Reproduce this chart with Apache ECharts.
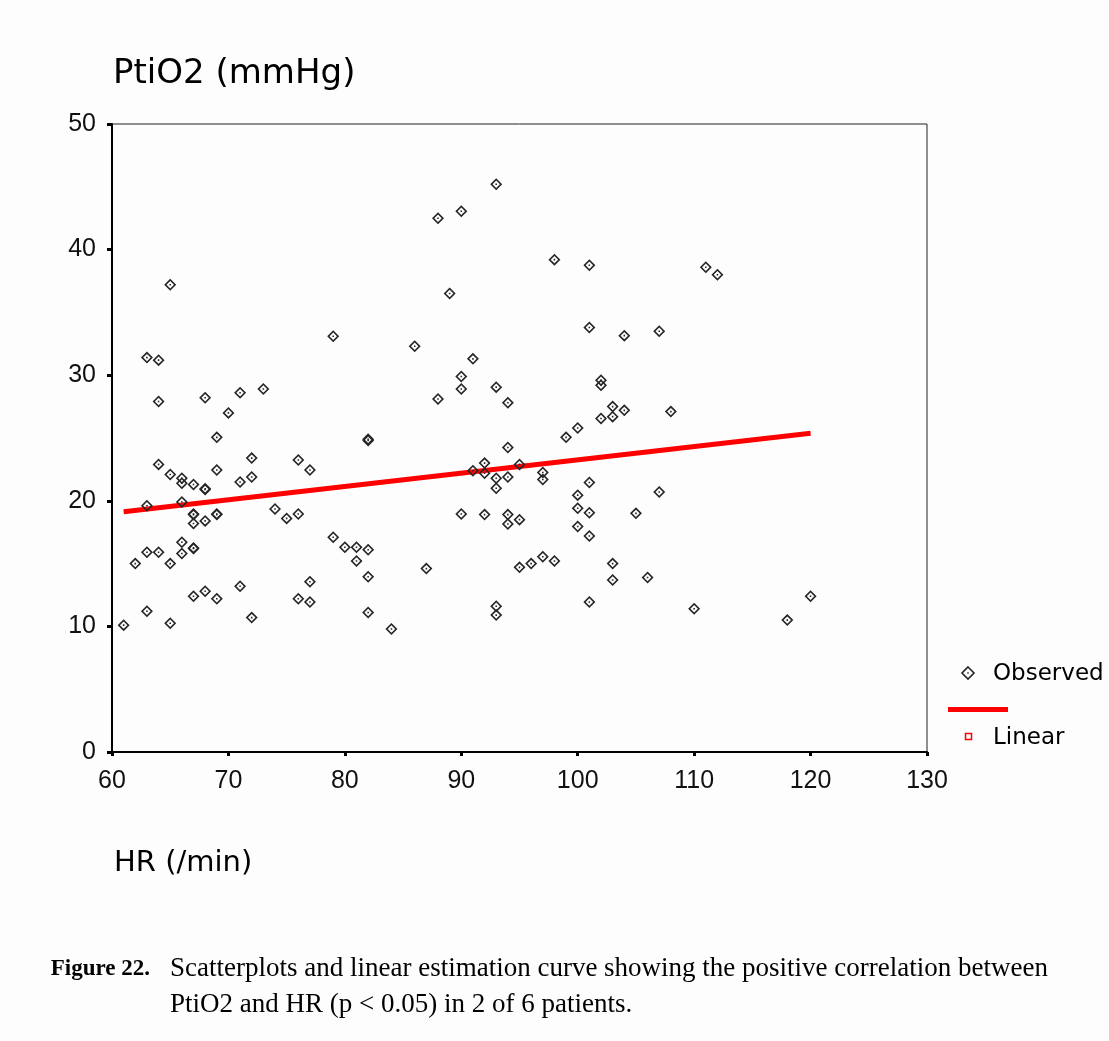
<!DOCTYPE html>
<html>
<head>
<meta charset="utf-8">
<script src="https://cdn.jsdelivr.net/npm/echarts@6/dist/echarts.min.js"></script>
<style>
  html, body { margin: 0; padding: 0; background: #fdfdfd; }
  #chart { width: 1109px; height: 1041px; }
</style>
</head>
<body>
<div id="chart"></div>
<script>
// Heart rate (/min) for each observation
const hr = [
  61, 62,
  63, 63, 63, 63,
  64, 64, 64, 64,
  65, 65, 65, 65,
  66, 66, 66, 66, 66,
  67, 67, 67, 67, 67, 67, 67,
  68, 68, 68, 68, 68,
  69, 69, 69, 69, 69,
  70,
  71, 71, 71,
  72, 72, 72,
  73, 74, 75,
  76, 76, 76,
  77, 77, 77,
  79, 79,
  80,
  81, 81,
  82, 82, 82, 82, 82,
  84, 86, 87,
  88, 88,
  89,
  90, 90, 90, 90,
  91, 91,
  92, 92, 92,
  93, 93, 93, 93, 93, 93,
  94, 94, 94, 94, 94,
  95, 95, 95,
  96,
  97, 97, 97,
  98, 98,
  99,
  100, 100, 100, 100,
  101, 101, 101, 101, 101, 101,
  102, 102, 102,
  103, 103, 103, 103,
  104, 104,
  105, 106,
  107, 107,
  108, 110, 111, 112, 118, 120
];

// Tissue oxygen tension PtiO2 (mmHg), same order as hr
const ptio2 = [
  10.1, 15.0,
  31.4, 19.6, 15.9, 11.2,
  31.2, 27.9, 22.9, 15.9,
  37.2, 22.1, 15.0, 10.25,
  21.8, 21.4, 19.9, 16.7, 15.8,
  21.3, 18.9, 18.95, 18.2, 16.2, 16.25, 12.4,
  28.2, 20.9, 20.95, 18.4, 12.8,
  25.05, 22.45, 18.9, 18.95, 12.2,
  27.0,
  28.6, 21.5, 13.2,
  23.4, 21.9, 10.7,
  28.9, 19.35, 18.6,
  23.25, 18.95, 12.2,
  22.45, 13.55, 11.95,
  33.1, 17.1,
  16.3,
  16.3, 15.2,
  24.8, 24.9, 16.1, 13.95, 11.1,
  9.8, 32.3, 14.6,
  42.5, 28.1,
  36.5,
  43.05, 29.9, 28.9, 18.95,
  31.3, 22.4,
  23.0, 22.2, 18.9,
  45.2, 29.05, 21.8, 21.0, 11.6, 10.9,
  27.8, 24.25, 21.9, 18.9, 18.15,
  22.9, 18.5, 14.7,
  15.0,
  22.25, 21.7, 15.55,
  39.2, 15.2,
  25.05,
  25.8, 20.45, 19.4, 17.95,
  38.75, 33.8, 21.45, 19.05, 17.2, 11.95,
  29.6, 29.2, 26.55,
  27.5, 26.7, 15.0, 13.7,
  33.15, 27.2,
  19.0, 13.9,
  33.5, 20.7,
  27.1, 11.4, 38.6, 38.0, 10.5, 12.4
];

// Linear estimation curve (end points over the observed HR range)
const fitHr = [61, 120];
const fitPtio2 = [19.13, 25.37];

// Axis ticks
const xTicks = [60, 70, 80, 90, 100, 110, 120, 130];
const yTicks = [0, 10, 20, 30, 40, 50];

const observed = hr.map((x, i) => [x, ptio2[i]]);
const linear = fitHr.map((x, i) => [x, fitPtio2[i]]);

// Hollow diamond with a centre dot
const diamondSymbol = 'path://M5,0L10,5L5,10L0,5Z M5,1.9L1.9,5L5,8.1L8.1,5Z M4.35,4.35L5.65,4.35L5.65,5.65L4.35,5.65Z';

const sans = '"DejaVu Sans", "Liberation Sans", Arial, sans-serif';
const narrow = '"Liberation Sans Narrow", "Arial Narrow", "Liberation Sans", sans-serif';
const serif = '"Liberation Serif", "Times New Roman", serif';

const chart = echarts.init(document.getElementById('chart'), null, { renderer: 'canvas' });

chart.setOption({
  backgroundColor: '#fdfdfd',
  animation: false,
  title: [
    {
      text: 'PtiO2 (mmHg)',
      left: 108, top: 52,
      textStyle: { fontFamily: sans, fontSize: 34, fontWeight: 'normal', color: '#000' }
    },
    {
      text: 'HR (/min)',
      left: 109, top: 844,
      textStyle: { fontFamily: sans, fontSize: 29, fontWeight: 'normal', color: '#000' }
    }
  ],
  grid: {
    left: 112, top: 124, width: 815, height: 628,
    show: true, borderColor: '#222', borderWidth: 1, backgroundColor: 'transparent'
  },
  xAxis: {
    type: 'value',
    min: xTicks[0], max: xTicks[xTicks.length - 1], interval: 10,
    axisLine: { show: true, onZero: false, lineStyle: { color: '#000', width: 2 } },
    axisTick: { show: true, length: 4, lineStyle: { color: '#000', width: 3 } },
    axisLabel: { margin: 17, color: '#111', fontFamily: narrow, fontSize: 25 },
    splitLine: { show: false }
  },
  yAxis: {
    type: 'value',
    min: yTicks[0], max: yTicks[yTicks.length - 1], interval: 10,
    axisLine: { show: true, onZero: false, lineStyle: { color: '#000', width: 2 } },
    axisTick: { show: true, length: 5, lineStyle: { color: '#000', width: 3 } },
    axisLabel: { margin: 16, color: '#111', fontFamily: narrow, fontSize: 25 },
    splitLine: { show: false }
  },
  series: [
    {
      name: 'Linear',
      type: 'line',
      data: linear,
      showSymbol: false,
      symbol: 'none',
      lineStyle: { color: '#ff0000', width: 5 },
      z: 1
    },
    {
      name: 'Observed',
      type: 'scatter',
      data: observed,
      symbol: diamondSymbol,
      symbolSize: 12,
      itemStyle: { color: '#262626', opacity: 1 },
      z: 3
    }
  ],
  graphic: [
    // legend: Observed
    {
      type: 'polygon',
      shape: { points: [[968, 667], [974, 673], [968, 679], [962, 673]] },
      style: { fill: 'none', stroke: '#262626', lineWidth: 1.6 }
    },
    {
      type: 'rect',
      shape: { x: 967.3, y: 672.3, width: 1.4, height: 1.4 },
      style: { fill: '#262626' }
    },
    {
      type: 'text', x: 993, y: 674,
      style: { text: 'Observed', font: '23px ' + sans, fill: '#000', textVerticalAlign: 'middle' }
    },
    // legend: Linear
    {
      type: 'rect',
      shape: { x: 948, y: 707, width: 60, height: 5 },
      style: { fill: '#ff0000' }
    },
    {
      type: 'rect',
      shape: { x: 965.5, y: 733.5, width: 6, height: 6 },
      style: { fill: 'none', stroke: '#ff0000', lineWidth: 1.5 }
    },
    {
      type: 'text', x: 993, y: 738,
      style: { text: 'Linear', font: '23px ' + sans, fill: '#000', textVerticalAlign: 'middle' }
    },
    // figure caption
    {
      type: 'text', x: 150, y: 969,
      style: {
        text: 'Figure 22.', font: 'bold 23px ' + serif, fill: '#000',
        textAlign: 'right', textVerticalAlign: 'middle'
      }
    },
    {
      type: 'text', x: 170, y: 969,
      style: {
        text: 'Scatterplots and linear estimation curve showing the positive correlation between',
        font: '27px ' + serif, fill: '#000', textVerticalAlign: 'middle'
      }
    },
    {
      type: 'text', x: 170, y: 1005,
      style: {
        text: 'PtiO2 and HR (p < 0.05) in 2 of 6 patients.',
        font: '27px ' + serif, fill: '#000', textVerticalAlign: 'middle'
      }
    }
  ]
});
</script>
</body>
</html>
